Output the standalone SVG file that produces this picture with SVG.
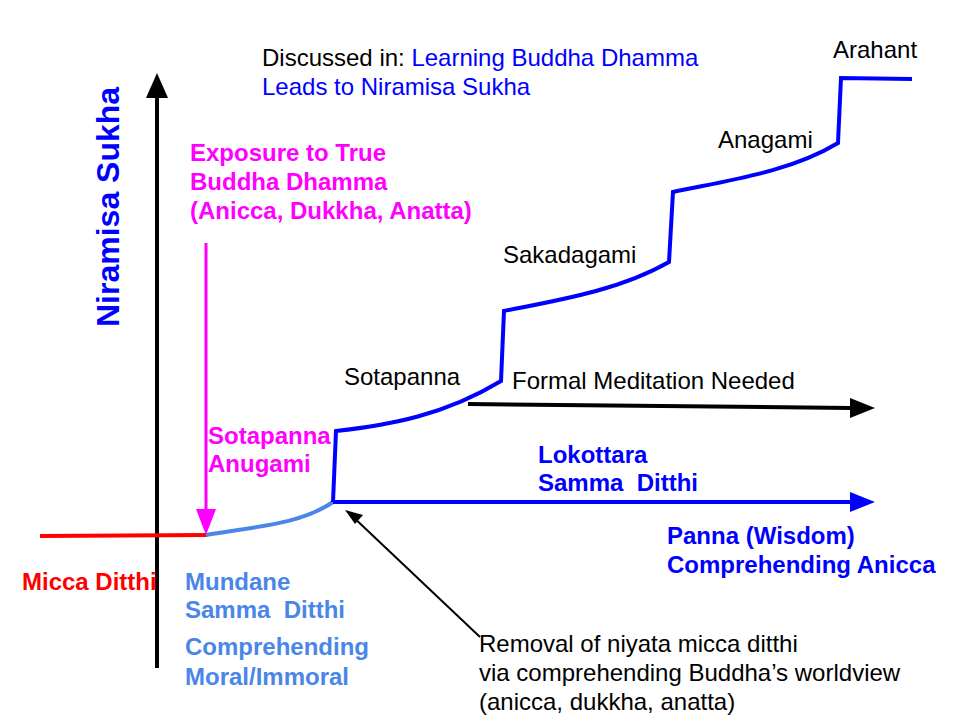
<svg xmlns="http://www.w3.org/2000/svg" width="960" height="720" viewBox="0 0 960 720">
<defs>
<style>
text{font-family:"Liberation Sans",Arial,sans-serif;font-size:24px}
.b{font-weight:bold}
.blk{fill:#000}
.blu{fill:#0000ff}
.lb{fill:#4a86e8}
.mg{fill:#ff00ff}
.rd{fill:#ff0000}
</style>
</defs>
<rect width="960" height="720" fill="#fff"/>
<g id="connectors">
<line x1="157" y1="668" x2="157" y2="98" stroke="#000" stroke-width="4"/>
<polygon points="157,73 146,98 168,98" fill="#000"/>
<line x1="40" y1="536" x2="207" y2="535" stroke="#ff0000" stroke-width="4"/>
<path d="M206,535 C250,527 300,525 333,502" fill="none" stroke="#4a86e8" stroke-width="4"/>
<line x1="206" y1="243" x2="206" y2="510" stroke="#ff00ff" stroke-width="3"/>
<polygon points="206,535 196,509 216,509" fill="#ff00ff"/>
<path d="M333,502 L336,431 C390,425 445,415 501,381 L504,311 C560,300 620,290 669,262 L673,192 C730,180 790,172 838,143 L841,78 L912,79" fill="none" stroke="#0000ff" stroke-width="4" stroke-linejoin="miter"/>
<line x1="333" y1="502" x2="850" y2="502" stroke="#0000ff" stroke-width="4"/>
<polygon points="875,502 850,492 850,512" fill="#0000ff"/>
<line x1="468" y1="404" x2="850" y2="408" stroke="#000" stroke-width="4"/>
<polygon points="875,408 850,398 850,418" fill="#000"/>
<line x1="480" y1="637" x2="350" y2="514" stroke="#000" stroke-width="2"/>
<polygon points="345,510 363,515 355,524" fill="#000"/>
</g>
<g id="title">
<text x="262" y="66" class="blk">Discussed in: <tspan class="blu">Learning Buddha Dhamma</tspan></text>
<text x="262" y="95" class="blu">Leads to Niramisa Sukha</text>
</g>
<g id="axis-label"><text transform="translate(119,327) rotate(-90)" class="b blu" style="font-size:32px">Niramisa Sukha</text></g>
<g id="arahant"><text x="833" y="58" class="blk">Arahant</text></g>
<g id="anagami"><text x="718" y="148" class="blk">Anagami</text></g>
<g id="sakadagami"><text x="503" y="263" class="blk">Sakadagami</text></g>
<g id="sotapanna"><text x="344" y="385" class="blk">Sotapanna</text></g>
<g id="formal"><text x="512" y="389" class="blk">Formal Meditation Needed</text></g>
<g id="exposure">
<text x="190" y="161" class="b mg">Exposure to True</text>
<text x="190" y="190" class="b mg">Buddha Dhamma</text>
<text x="190" y="219" class="b mg">(Anicca, Dukkha, Anatta)</text>
</g>
<g id="anugami">
<text x="208" y="444" class="b mg">Sotapanna</text>
<text x="208" y="472" class="b mg">Anugami</text>
</g>
<g id="lokottara">
<text x="538" y="463" class="b blu">Lokottara</text>
<text x="538" y="491" class="b blu" xml:space="preserve">Samma  Ditthi</text>
</g>
<g id="panna">
<text x="667" y="544" class="b blu">Panna (Wisdom)</text>
<text x="667" y="573" class="b blu">Comprehending Anicca</text>
</g>
<g id="micca"><text x="22" y="590" class="b rd">Micca Ditthi</text></g>
<g id="mundane">
<text x="185" y="590" class="b lb">Mundane</text>
<text x="185" y="618" class="b lb" xml:space="preserve">Samma  Ditthi</text>
<text x="185" y="655" class="b lb">Comprehending</text>
<text x="185" y="685" class="b lb">Moral/Immoral</text>
</g>
<g id="removal">
<text x="479" y="652" class="blk">Removal of niyata micca ditthi</text>
<text x="479" y="681" class="blk">via comprehending Buddha’s worldview</text>
<text x="479" y="710" class="blk">(anicca, dukkha, anatta)</text>
</g>
</svg>
